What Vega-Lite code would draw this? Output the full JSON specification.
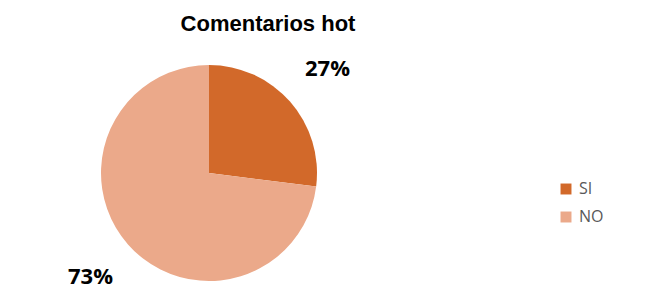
{
  "$schema": "https://vega.github.io/schema/vega-lite/v6.json",
  "width": 418,
  "height": 220,
  "padding": {"left": 0, "top": 12, "right": 5, "bottom": 5},
  "background": "white",
  "title": {
    "text": "Comentarios hot",
    "font": "Liberation Sans",
    "fontSize": 22,
    "fontWeight": "bold",
    "color": "#000000",
    "anchor": "middle",
    "dx": 59,
    "offset": 22
  },
  "data": {
    "values": [
      {"respuesta": "SI", "pct": 27, "orden": 1, "label": "27%"},
      {"respuesta": "NO", "pct": 73, "orden": 2, "label": "73%"}
    ]
  },
  "encoding": {
    "theta": {"field": "pct", "type": "quantitative", "stack": true},
    "order": {"field": "orden", "type": "quantitative"},
    "color": {
      "field": "respuesta",
      "type": "nominal",
      "sort": ["SI", "NO"],
      "scale": {"domain": ["SI", "NO"], "range": ["#D2692A", "#EBA98A"]},
      "legend": {
        "title": null,
        "orient": "none",
        "legendX": 558,
        "legendY": 118,
        "symbolType": "square",
        "symbolSize": 120,
        "symbolStrokeWidth": 0,
        "labelFont": "Open Sans",
        "labelFontSize": 16,
        "labelColor": "#595959",
        "rowPadding": 12,
        "labelOffset": 5
      }
    }
  },
  "layer": [
    {
      "mark": {"type": "arc", "outerRadius": 108}
    },
    {
      "mark": {
        "type": "text",
        "radius": 158,
        "font": "Open Sans",
        "fontSize": 22,
        "fontWeight": "bold",
        "color": "#000000"
      },
      "encoding": {
        "text": {"field": "label", "type": "nominal"},
        "color": {"value": "#000000"}
      }
    }
  ]
}
